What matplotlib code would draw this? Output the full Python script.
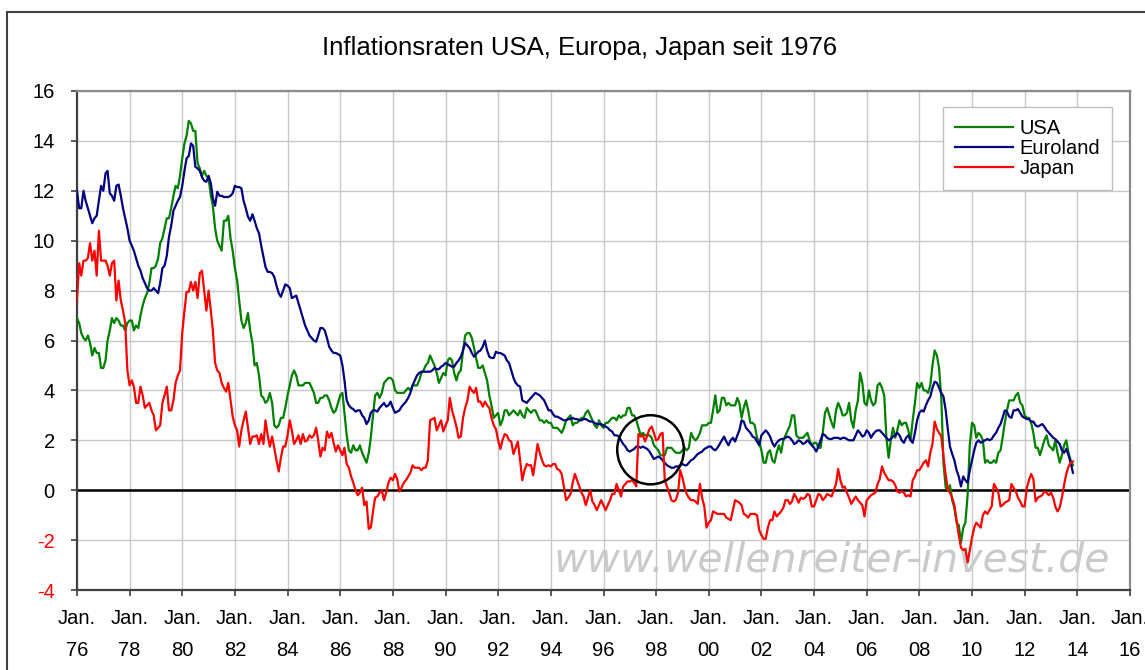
import matplotlib
matplotlib.use("Agg")
import matplotlib.pyplot as plt
import matplotlib.dates as mdates
from matplotlib.patches import Rectangle, Ellipse
import pandas as pd
import datetime as dt

plt.rcParams['font.family'] = ['Liberation Sans', 'DejaVu Sans']

title = "Inflationsraten USA, Europa, Japan seit 1976"
series_names = ["USA", "Euroland", "Japan"]

# monthly year-on-year inflation, Dec 1975 - Oct 2013 (rows: Dec..Nov)
usa = [6.9,
    6.7, 6.3, 6.1, 6.0, 6.2, 5.9, 5.4, 5.7, 5.5, 5.5, 4.9, 4.9,
    5.2, 6.0, 6.4, 6.9, 6.7, 6.9, 6.8, 6.6, 6.6, 6.4, 6.7, 6.8,
    6.8, 6.4, 6.6, 6.5, 7.0, 7.4, 7.7, 7.9, 8.3, 8.9, 8.9, 9.0,
    9.3, 9.9, 10.1, 10.5, 10.9, 10.9, 11.3, 11.8, 12.2, 12.1, 12.6, 13.3,
    13.9, 14.2, 14.8, 14.7, 14.4, 14.4, 13.1, 12.9, 12.6, 12.8, 12.6, 12.5,
    11.8, 11.4, 10.5, 10.0, 9.8, 9.6, 10.8, 10.8, 11.0, 10.1, 9.6, 8.9,
    8.4, 7.6, 6.8, 6.5, 6.7, 7.1, 6.4, 5.9, 5.0, 5.1, 4.6, 3.8,
    3.7, 3.5, 3.6, 3.9, 3.5, 2.6, 2.5, 2.6, 2.9, 2.9, 3.3, 3.8,
    4.2, 4.6, 4.8, 4.6, 4.2, 4.2, 4.2, 4.3, 4.3, 4.3, 4.1, 3.9,
    3.5, 3.5, 3.7, 3.7, 3.8, 3.8, 3.6, 3.3, 3.1, 3.2, 3.5, 3.8,
    3.9, 3.1, 2.2, 1.6, 1.5, 1.8, 1.6, 1.6, 1.8, 1.5, 1.3, 1.1,
    1.5, 2.1, 3.0, 3.8, 3.9, 3.7, 3.9, 4.3, 4.4, 4.5, 4.5, 4.4,
    4.0, 3.9, 3.9, 3.9, 3.9, 4.0, 4.1, 4.0, 4.2, 4.2, 4.2, 4.4,
    4.7, 4.8, 5.0, 5.1, 5.4, 5.2, 5.0, 4.7, 4.3, 4.5, 4.7, 4.6,
    5.2, 5.3, 5.2, 4.7, 4.4, 4.7, 4.8, 5.6, 6.2, 6.3, 6.3, 6.1,
    5.7, 5.3, 4.9, 4.9, 5.0, 4.7, 4.4, 3.8, 3.4, 2.9, 3.0, 3.1,
    2.6, 2.8, 3.2, 3.2, 3.0, 3.1, 3.2, 3.1, 3.0, 3.2, 3.0, 2.9,
    3.3, 3.2, 3.1, 3.2, 3.2, 3.0, 2.8, 2.8, 2.7, 2.8, 2.7, 2.7,
    2.5, 2.5, 2.5, 2.4, 2.3, 2.5, 2.8, 2.9, 3.0, 2.6, 2.7, 2.7,
    2.8, 2.9, 2.9, 3.1, 3.2, 3.0, 2.8, 2.6, 2.5, 2.8, 2.6, 2.5,
    2.7, 2.7, 2.8, 2.9, 2.9, 2.8, 3.0, 2.9, 3.0, 3.0, 3.3, 3.3,
    3.0, 3.0, 2.8, 2.5, 2.2, 2.3, 2.2, 2.2, 2.2, 2.1, 1.8, 1.7,
    1.6, 1.4, 1.4, 1.4, 1.7, 1.7, 1.7, 1.6, 1.5, 1.5, 1.5, 1.6,
    1.7, 1.6, 1.7, 2.3, 2.1, 2.0, 2.1, 2.3, 2.6, 2.6, 2.6, 2.7,
    2.7, 3.2, 3.8, 3.1, 3.2, 3.7, 3.7, 3.4, 3.5, 3.4, 3.4, 3.4,
    3.7, 3.5, 2.9, 3.3, 3.6, 3.2, 2.7, 2.7, 2.6, 2.1, 1.9, 1.6,
    1.1, 1.1, 1.5, 1.6, 1.2, 1.1, 1.5, 1.8, 1.5, 2.0, 2.2, 2.4,
    2.6, 3.0, 3.0, 2.2, 2.1, 2.1, 2.1, 2.2, 2.3, 2.0, 1.8, 1.9,
    1.9, 1.7, 1.7, 2.3, 3.1, 3.3, 3.0, 2.7, 2.5, 3.2, 3.5, 3.3,
    3.0, 3.0, 3.1, 3.5, 2.8, 2.5, 3.2, 3.6, 4.7, 4.3, 3.5, 3.4,
    4.0, 3.6, 3.4, 3.5, 4.2, 4.3, 4.1, 3.8, 2.1, 1.3, 2.0, 2.5,
    2.1, 2.4, 2.8, 2.6, 2.7, 2.7, 2.4, 2.0, 2.8, 3.5, 4.3, 4.1,
    4.3, 4.0, 4.0, 3.9, 4.2, 5.0, 5.6, 5.4, 4.9, 3.7, 1.1, 0.1,
    0.0, 0.2, -0.4, -0.7, -1.3, -1.4, -2.1, -1.5, -1.3, -0.2, 1.8, 2.7,
    2.6, 2.1, 2.3, 2.2, 2.0, 1.1, 1.2, 1.1, 1.1, 1.2, 1.1, 1.5,
    1.6, 2.1, 2.7, 3.2, 3.6, 3.6, 3.6, 3.8, 3.9, 3.5, 3.4, 3.0,
    2.9, 2.9, 2.7, 2.3, 1.7, 1.7, 1.4, 1.7, 2.0, 2.2, 1.8, 1.7,
    1.6, 2.0, 1.5, 1.1, 1.4, 1.8, 2.0, 1.5, 1.2, 1.0]

euroland = [
    12.0, 11.3, 11.3, 12.0, 11.6, 11.3, 11.0, 10.7, 10.9, 11.0, 11.6, 12.2,
    12.0, 12.7, 12.8, 11.9, 11.8, 11.6, 12.2, 12.25, 11.8, 11.3, 10.9, 10.5,
    10.0, 9.8, 9.6, 9.3, 9.0, 8.8, 8.5, 8.3, 8.1, 8.0, 8.0, 8.1,
    8.0, 7.9, 8.3, 8.9, 9.0, 9.4, 10.15, 10.6, 11.2, 11.4, 11.6, 11.75,
    12.2, 12.8, 13.3, 13.4, 13.9, 13.8, 12.96, 12.9, 12.8, 12.55, 12.4, 12.36,
    12.6, 12.3, 11.7, 11.4, 11.96, 11.8, 11.8, 11.75, 11.75, 11.75, 11.8, 11.9,
    12.2, 12.15, 12.15, 12.1, 11.6, 11.3, 10.96, 10.8, 11.06, 10.8, 10.5, 10.3,
    9.8, 9.35, 8.95, 8.75, 8.75, 8.7, 8.55, 8.2, 7.9, 7.75, 8.0, 8.25,
    8.2, 8.1, 7.7, 7.75, 7.8, 7.5, 7.2, 6.9, 6.6, 6.4, 6.2, 6.1,
    6.0, 5.95, 6.2, 6.5, 6.5, 6.4, 6.1, 5.75, 5.6, 5.5, 5.5, 5.45,
    5.4, 5.0, 4.4, 3.6, 3.4, 3.3, 3.25, 3.15, 3.2, 3.2, 3.0, 2.9,
    2.65, 2.8, 3.1, 3.2, 3.2, 3.15, 3.3, 3.4, 3.5, 3.35, 3.4, 3.55,
    3.3, 3.1, 3.15, 3.2, 3.35, 3.45, 3.55, 3.7, 3.9, 4.2, 4.4, 4.6,
    4.7, 4.75, 4.75, 4.75, 4.75, 4.75, 4.8, 4.9, 4.85, 4.85, 4.95, 5.0,
    5.1, 5.05, 5.0, 4.95, 4.95, 5.1, 5.2, 5.35, 5.6, 5.9, 5.8, 5.7,
    5.5, 5.35, 5.45, 5.55, 5.6, 5.75, 6.0, 5.6, 5.35, 5.3, 5.3, 5.55,
    5.5, 5.5, 5.45, 5.4, 5.2, 5.1, 4.8, 4.5, 4.3, 4.2, 4.15, 3.6,
    3.55, 3.5, 3.6, 3.7, 3.8, 3.9, 3.85, 3.8, 3.7, 3.6, 3.4, 3.2,
    3.2, 3.05, 2.95, 2.95, 2.9, 2.85, 2.8, 2.8, 2.85, 2.85, 2.9, 2.85,
    2.85, 2.8, 2.8, 2.85, 2.85, 2.8, 2.75, 2.75, 2.7, 2.65, 2.65, 2.65,
    2.6, 2.55, 2.5, 2.4, 2.35, 2.2, 2.2, 2.15, 2.0, 1.85, 1.75, 1.6,
    1.55, 1.6, 1.65, 1.75, 1.75, 1.7, 1.75, 1.7, 1.65, 1.55, 1.4, 1.25,
    1.3, 1.35, 1.3, 1.2, 1.1, 1.0, 0.95, 0.9, 0.9, 0.95, 0.95, 1.0,
    1.05, 1.0, 1.0, 1.1, 1.2, 1.25, 1.35, 1.45, 1.5, 1.55, 1.65, 1.7,
    1.75, 1.75, 1.65, 1.6, 1.7, 1.85, 2.0, 2.15, 1.95, 1.8, 2.0, 2.1,
    1.95, 2.2, 2.4, 2.8, 2.75, 2.5, 2.4, 2.3, 2.15, 2.1, 1.95, 1.8,
    2.2, 2.3, 2.4, 2.3, 2.15, 1.9, 1.75, 1.9, 2.0, 2.05, 2.05, 2.1,
    2.15, 2.1, 2.0, 1.85, 1.9, 2.0, 1.95, 1.85, 1.9, 2.0, 1.9, 1.8,
    1.7, 1.55, 1.75, 2.0, 2.25, 2.2, 2.1, 2.05, 2.05, 2.1, 2.1, 2.1,
    2.05, 2.1, 2.1, 2.05, 2.0, 2.0, 2.0, 2.2, 2.4, 2.3, 2.15, 2.2,
    2.4, 2.3, 2.1, 2.25, 2.35, 2.4, 2.4, 2.3, 2.2, 2.1, 2.0, 2.05,
    2.15, 2.2, 2.3, 2.2, 2.0, 1.9, 2.1, 2.2, 2.0, 1.9, 2.3, 2.8,
    3.1, 3.2, 3.15, 3.4, 3.6, 3.75, 4.1, 4.35, 4.3, 4.1, 3.9, 3.75,
    3.2, 2.4, 1.75, 1.45, 1.2, 0.8, 0.55, 0.15, 0.55, 0.4, 0.3, 0.8,
    1.2, 1.6, 1.9, 2.0, 1.9, 1.95, 2.0, 2.05, 2.0, 2.05, 2.2, 2.3,
    2.5, 2.65, 2.9, 3.2, 3.15, 2.95, 2.9, 3.2, 3.2, 3.25, 3.1, 2.95,
    2.9, 2.85, 2.85, 2.75, 2.75, 2.6, 2.55, 2.6, 2.65, 2.55, 2.4, 2.3,
    2.2, 2.1, 2.05, 1.95, 1.85, 1.6, 1.5, 1.65, 1.4, 1.1, 0.7]

japan = [
    7.6, 9.1, 8.6, 9.2, 9.2, 9.3, 9.9, 9.2, 9.6, 8.6, 10.4, 9.2,
    9.2, 9.2, 9.0, 8.6, 9.1, 9.2, 7.6, 8.4, 7.6, 7.2, 6.7, 4.8,
    4.2, 4.4, 4.15, 3.5, 3.5, 4.15, 3.8, 3.3, 3.4, 3.5, 3.2, 3.0,
    2.4, 2.5, 2.6, 3.5, 3.8, 4.15, 3.2, 3.2, 3.6, 4.3, 4.6, 4.8,
    6.3, 7.2, 7.95, 7.95, 8.35, 8.0, 8.35, 7.7, 8.7, 8.8, 8.0, 7.2,
    8.0, 7.2, 6.4, 5.1, 4.8, 4.7, 4.3, 4.1, 3.95, 4.3, 3.6, 2.95,
    2.6, 2.4, 1.75, 2.4, 2.8, 3.15, 2.5, 1.85, 2.15, 2.15, 2.2, 1.85,
    2.25, 1.85, 2.8, 2.2, 1.75, 2.15, 1.7, 1.2, 0.75, 1.3, 1.75, 1.75,
    2.2, 2.8, 2.4, 1.85, 2.0, 2.2, 1.85, 2.25, 1.95, 2.0, 2.2, 2.1,
    2.2, 2.5, 2.0, 1.35, 1.7, 1.6, 2.35, 2.1, 2.3, 1.9, 1.55, 1.8,
    1.6, 1.4, 1.7, 1.05, 0.9, 0.55, 0.3, 0.0, -0.2, -0.1, 0.1, -0.6,
    -0.45, -1.55, -1.5, -0.85, -0.3, -0.25, -0.1, 0.0, -0.4, -0.1, 0.3, 0.5,
    0.4, 0.65, 0.45, -0.05, 0.1, 0.3, 0.4, 0.55, 0.7, 1.0, 0.9, 0.9,
    0.9, 0.8, 0.9, 0.9, 1.2, 2.8, 2.85, 2.9, 2.4, 2.6, 2.8, 2.35,
    2.6, 2.8, 3.7, 3.2, 2.9, 2.55, 2.1, 2.15, 2.9, 3.3, 3.6, 4.15,
    4.0, 3.9, 4.1, 3.55, 3.55, 3.35, 3.55, 3.4, 3.3, 2.9, 2.6, 2.45,
    2.0, 1.65, 2.0, 2.25, 2.2, 2.0, 1.95, 1.45, 1.7, 1.95, 1.2, 0.4,
    0.8, 1.05, 1.0, 1.0, 0.6, 1.2, 1.85, 1.5, 1.2, 1.0, 0.95, 1.0,
    0.95, 1.05, 1.05, 0.85, 0.8, 0.65, 0.15, -0.4, -0.3, -0.15, 0.3, 0.65,
    0.4, 0.15, -0.1, -0.25, -0.6, -0.3, 0.0, -0.45, -0.6, -0.8, -0.6, -0.4,
    -0.6, -0.8, -0.6, -0.4, -0.15, -0.15, 0.25, 0.0, -0.25, 0.15, 0.25, 0.35,
    0.35, 0.4, 0.3, 0.15, 2.25, 2.15, 2.2, 1.95, 2.2, 2.45, 2.55, 2.3,
    2.0, 2.05, 2.25, 2.3, 0.4, 0.15, -0.1, -0.4, -0.45, -0.4, -0.1, 0.8,
    0.5, 0.1, -0.15, -0.3, -0.4, -0.4, -0.45, -0.55, 0.25, -0.3, -0.65, -1.5,
    -1.3, -1.2, -0.85, -0.9, -0.95, -0.95, -0.95, -0.95, -1.1, -1.15, -1.2, -0.8,
    -0.4, -0.45, -0.5, -0.6, -0.95, -1.0, -1.1, -0.95, -0.95, -0.95, -1.0, -1.6,
    -1.8, -1.95, -1.95, -1.5, -1.2, -1.2, -0.85, -1.05, -0.95, -0.85, -0.7, -0.4,
    -0.4, -0.55, -0.45, -0.15, -0.3, -0.5, -0.3, -0.35, -0.3, -0.15, -0.2, -0.65,
    -0.65, -0.4, -0.15, -0.2, -0.4, -0.3, -0.15, -0.2, -0.25, 0.0, 0.25, 0.85,
    0.4, 0.1, 0.15, -0.1, -0.3, -0.55, -0.4, -0.25, -0.4, -0.5, -0.6, -1.05,
    -0.4, -0.3, -0.2, -0.15, -0.1, 0.25, 0.45, 0.95, 0.7, 0.55, 0.4, 0.4,
    0.35, 0.2, -0.05, -0.1, -0.05, -0.1, -0.25, -0.2, -0.25, 0.4, 0.55, 0.8,
    0.8, 0.95, 1.1, 1.2, 0.95, 1.5, 1.85, 2.75, 2.45, 2.3, 2.15, 1.35,
    0.6, 0.0, -0.1, -0.3, -0.6, -1.2, -1.8, -2.3, -2.4, -2.35, -2.9, -2.4,
    -1.9, -1.5, -1.3, -1.4, -1.5, -1.0, -0.85, -0.95, -0.8, -0.65, 0.25, 0.1,
    -0.1, -0.65, -0.6, -0.5, -0.45, -0.4, 0.25, 0.1, -0.05, -0.3, -0.45, -0.65,
    -0.65, 0.1, 0.4, 0.65, 0.45, -0.45, -0.3, -0.25, -0.2, -0.05, -0.1, -0.2,
    -0.1, -0.3, -0.65, -0.85, -0.7, -0.3, 0.2, 0.65, 0.95, 1.1, 1.15]

tick_years = list(range(1976, 2017, 2))
tick_labels = ["Jan.\n%02d" % (y % 100) for y in tick_years]
y_ticks = list(range(-4, 17, 2))
watermark = "www.wellenreiter-invest.de"

dates = pd.date_range("1975-12-31", periods=len(usa), freq="ME")

W, H = 1145, 670
fig = plt.figure(figsize=(W / 100, H / 100), dpi=100)
ax = fig.add_axes([77 / W, 1 - 590 / H, (1130 - 77) / W, (590 - 91) / H])

colors = {"USA": "#008000", "Euroland": "#000080", "Japan": "#ff0000"}
data = {"USA": usa, "Euroland": euroland, "Japan": japan}
handles = []
for name in series_names:
    ln, = ax.plot(dates, data[name], color=colors[name], lw=1.6, zorder=3,
                  solid_joinstyle='round')
    handles.append(ln)

ax.axhline(0, color="black", lw=1.8, zorder=2.5)

ax.set_xlim(dt.datetime(1976, 1, 1), dt.datetime(2016, 1, 1))
ax.set_ylim(-4, 16)
ax.set_yticks(y_ticks)
ax.set_yticklabels([str(v) for v in y_ticks])
for lbl, v in zip(ax.get_yticklabels(), y_ticks):
    lbl.set_color("red" if v < 0 else "black")
ax.set_xticks([dt.datetime(y, 1, 1) for y in tick_years])
ax.set_xticklabels(tick_labels, linespacing=1.85)

ax.grid(True, color="#c8c8c8", lw=1.0)
ax.set_axisbelow(True)

for s in ["left", "bottom"]:
    ax.spines[s].set_color("#404040")
    ax.spines[s].set_linewidth(1.6)
for s in ["top", "right"]:
    ax.spines[s].set_color("#8a8a8a")
    ax.spines[s].set_linewidth(1.6)

ax.tick_params(axis="both", direction="out", length=4, width=1.2,
               color="#404040", labelsize=14.5)
ax.tick_params(axis="y", pad=12)
ax.tick_params(axis="x", pad=10)

# circle annotation
circ = Ellipse((mdates.date2num(dt.datetime(1997, 10, 15)), 1.62), width=925,
               height=2.77, fill=False, ec="black", lw=1.8, zorder=4)
ax.add_patch(circ)

# watermark
ax.text(832 / W, 1 - 572 / H, watermark, transform=fig.transFigure,
        ha="center", va="baseline", fontsize=29.5, style="italic",
        family="DejaVu Sans", color="#cacaca", zorder=1)

leg = ax.legend(handles, series_names, loc="upper right",
                bbox_to_anchor=(1112 / W, 1 - 107 / H),
                bbox_transform=fig.transFigure, frameon=True, fancybox=False,
                edgecolor="#c0c0c0", framealpha=1, fontsize=14.5,
                handlelength=2.9, handletextpad=0.3, labelspacing=0.05,
                borderpad=0.6, borderaxespad=0)
leg.get_frame().set_linewidth(1.0)

fig.text(580 / W, 1 - 55 / H, title, ha="center", va="baseline", fontsize=18.5)

fig.add_artist(Rectangle((7 / W, -0.05), 1.2, (1 - 12 / H) + 0.05,
                         transform=fig.transFigure, fill=False,
                         ec="#404040", lw=1.5))

fig.savefig("out.png", dpi=100)
